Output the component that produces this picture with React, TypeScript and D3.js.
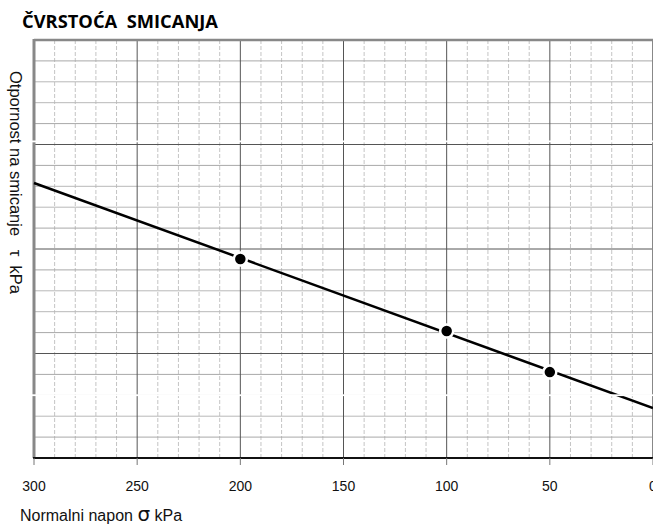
import React from "react";
import * as d3 from "d3";

// Test results: normal stress σ (kPa) and shear strength τ (kPa)
const sigmaPoints = [200, 100, 50];
const tauPoints = [95.2, 60.8, 41.1];

// Fitted failure envelope (two end points)
const envelopeSigma = [300, 0];
const envelopeTau = [131.6, 23.9];

// Axis ticks
const xMajorTicks = [300, 250, 200, 150, 100, 50, 0];
const xTickLabels = ["300", "250", "200", "150", "100", "50", "0"];
const xMinorTicks = d3.range(0, 301, 10);
const yMinorTicks = d3.range(0, 201, 10);
const yMajorTicks = [0, 50, 100, 150, 200];

const titleText = "ČVRSTOĆA  SMICANJA";
const xTitleMain = "Normalni napon ";
const xTitleSymbol = "σ";
const xTitleUnit = " kPa";
const yTitle = "Otpornost na smicanje   τ  kPa";

const W = 653;
const H = 525;
const left = 34;
const right = 653;
const top = 40;
const bottom = 458;

export default function App() {
  const x = d3.scaleLinear().domain([300, 0]).range([left, right]);
  const y = d3.scaleLinear().domain([0, 200]).range([bottom, top]);

  const envelope = d3
    .line<number>()
    .x((_, i) => x(envelopeSigma[i]))
    .y((d) => y(d))(envelopeTau);

  const sans = "'Liberation Sans', Arial, sans-serif";

  return (
    <svg
      width={W}
      height={H}
      style={{ position: "absolute", left: 0, top: 0, background: "#fff" }}
    >
      <rect x={0} y={0} width={W} height={H} fill="#fff" />

      {/* minor vertical grid */}
      {xMinorTicks
        .filter((v) => v % 50 !== 0)
        .map((v) => (
          <line
            key={"xv" + v}
            x1={x(v)}
            x2={x(v)}
            y1={top}
            y2={bottom}
            stroke="#c4c4c4"
            strokeWidth={1}
            strokeDasharray="4,2"
          />
        ))}

      {/* minor horizontal grid */}
      {yMinorTicks
        .filter((v) => v % 50 !== 0)
        .map((v, i) => (
          <line
            key={"yh" + v}
            x1={left}
            x2={right}
            y1={y(v)}
            y2={y(v)}
            stroke={i % 4 === 1 || i % 4 === 2 ? "#b8b8b8" : "#a8a8a8"}
            strokeWidth={1}
          />
        ))}

      {/* major horizontal grid */}
      {yMajorTicks
        .filter((v) => v !== 0 && v !== 200)
        .map((v) => (
          <line
            key={"ym" + v}
            x1={left}
            x2={right}
            y1={y(v)}
            y2={y(v)}
            stroke="#555"
            strokeWidth={1}
          />
        ))}

      {/* major vertical grid */}
      {xMajorTicks
        .filter((v) => v !== 300)
        .map((v) => (
          <line
            key={"xm" + v}
            x1={x(v)}
            x2={x(v)}
            y1={top}
            y2={bottom}
            stroke={v === 0 ? "#888" : "#555"}
            strokeWidth={v === 0 ? 2 : 1}
          />
        ))}

      {/* frame: top and left */}
      <line x1={left} x2={right} y1={top} y2={top} stroke="#888" strokeWidth={2.5} />
      <line x1={left} x2={left} y1={top - 1} y2={bottom} stroke="#888" strokeWidth={3} />

      {/* x axis */}
      <line x1={left - 1} x2={right} y1={bottom} y2={bottom} stroke="#111" strokeWidth={2} />
      {xMajorTicks.map((v) => (
        <line
          key={"xt" + v}
          x1={x(v)}
          x2={x(v)}
          y1={bottom}
          y2={bottom + 7}
          stroke="#777"
          strokeWidth={1}
        />
      ))}
      {xMajorTicks.map((v, i) => (
        <text
          key={"xl" + v}
          x={x(v)}
          y={491}
          textAnchor="middle"
          fontFamily={sans}
          fontSize={14}
          fill="#111"
        >
          {xTickLabels[i]}
        </text>
      ))}

      {/* failure envelope */}
      <path d={envelope ?? ""} fill="none" stroke="#000" strokeWidth={2.5} />

      {/* measured points */}
      {sigmaPoints.map((s, i) => (
        <circle
          key={"p" + s}
          cx={x(s)}
          cy={y(tauPoints[i])}
          r={6.5}
          fill="#000"
          stroke="#fff"
          strokeWidth={2.5}
        />
      ))}

      {/* white seams across the sheet */}
      <rect x={0} y={140.5} width={W} height={1.8} fill="#fff" />
      <rect x={0} y={394.3} width={W} height={1.8} fill="#fff" />

      {/* title */}
      <text
        x={22}
        y={28}
        fontFamily="'Open Sans', sans-serif"
        fontWeight={700}
        fontSize={18.5}
        textLength={196}
        lengthAdjust="spacingAndGlyphs"
        fill="#000"
        style={{ whiteSpace: "pre" }}
      >
        {titleText}
      </text>

      {/* y title */}
      <text
        transform="translate(10, 71) rotate(90)"
        fontFamily={sans}
        fontSize={16.5}
        fill="#111"
        style={{ whiteSpace: "pre" }}
      >
        {yTitle}
      </text>

      {/* x title */}
      <text
        x={20}
        y={521}
        fontFamily={sans}
        fontSize={16}
        fill="#111"
        style={{ whiteSpace: "pre" }}
      >
        {xTitleMain}
        <tspan fontSize={20} fontFamily="'DejaVu Sans', sans-serif">
          {xTitleSymbol}
        </tspan>
        {xTitleUnit}
      </text>
    </svg>
  );
}
